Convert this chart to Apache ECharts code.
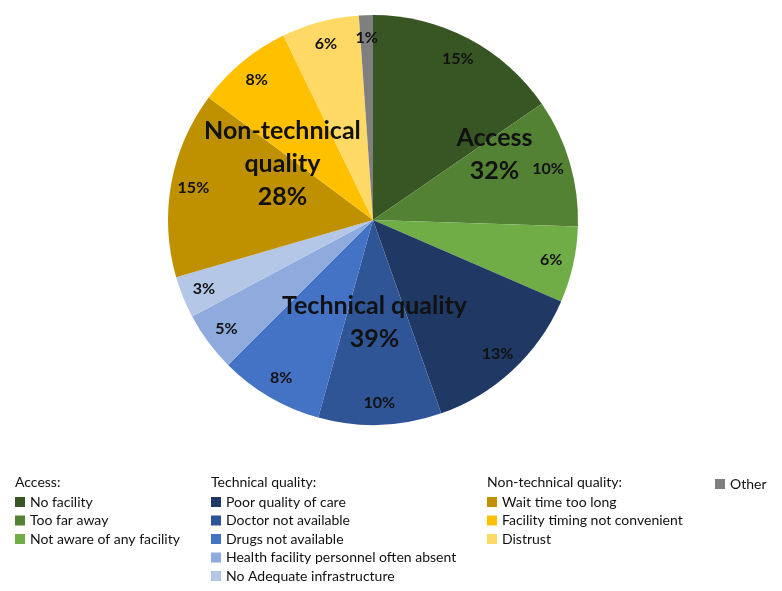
<!DOCTYPE html>
<html>
<head>
<meta charset="utf-8">
<script src="https://cdn.jsdelivr.net/npm/echarts@6/dist/echarts.min.js"></script>
<style>
  html, body { margin: 0; background: #fff; }
  #chart { width: 782px; height: 591px; }
</style>
</head>
<body>
<div id="chart"></div>
<script>
// reasons, clockwise from 12 o'clock
const categories = [
  'No facility', 'Too far away', 'Not aware of any facility',
  'Poor quality of care', 'Doctor not available', 'Drugs not available',
  'Health facility personnel often absent', 'No Adequate infrastructure',
  'Wait time too long', 'Facility timing not convenient', 'Distrust',
  'Other'
]
const values = [15.4, 10.1, 6.0, 13.1, 9.7, 8.2, 4.7, 3.3, 14.7, 7.6, 6.1, 1.1]
const groupOf = [0, 0, 0, 1, 1, 1, 1, 1, 2, 2, 2, 3]
const groups = ['Access', 'Technical quality', 'Non-technical quality', 'Other']
const groupTitles = ['Access:', 'Technical quality:', 'Non-technical quality:', '']
const groupLabels = ['Access', 'Technical quality', 'Non-technical\nquality', '']
const colors = [
  '#375623', '#548235', '#70ad47',
  '#203864', '#2f5597', '#4472c4', '#8faadc', '#b4c7e7',
  '#bf9000', '#ffc000', '#ffd966',
  '#7f7f7f'
]

const groupSums = groups.map((g, gi) =>
  values.reduce((s, v, i) => (groupOf[i] === gi ? s + v : s), 0))

const chart = echarts.init(document.getElementById('chart'))
const font = 'Lato, "Open Sans", sans-serif'
const center = [373, 220]
const legendLeft = [15, 211, 487, 715]
// nudge the big group labels to where they sit in the original
const groupShift = [[22, 0], [9, -16], [7, 12], [0, 0]]

chart.setOption({
  animation: false,
  graphic: groupTitles.filter(t => t).map((t, i) => ({
    type: 'text',
    left: legendLeft[i],
    top: 475,
    style: { text: t, fontSize: 14, fontFamily: font, fill: '#111' }
  })),
  legend: groups.map((g, gi) => ({
    orient: 'vertical',
    left: legendLeft[gi],
    top: gi === 3 ? 477 : 495,
    padding: 0,
    icon: 'rect',
    itemWidth: 10,
    itemHeight: 10,
    itemGap: 4.5,
    selectedMode: false,
    data: categories.filter((c, i) => groupOf[i] === gi),
    textStyle: { fontSize: 14, fontFamily: font, color: '#111', lineHeight: 14 }
  })),
  series: [
    {
      type: 'pie',
      center: center,
      radius: [0, 205],
      startAngle: 90,
      silent: true,
      label: { show: false },
      labelLine: { show: false },
      data: categories.map((name, i) => ({
        name,
        value: values[i],
        itemStyle: { color: colors[i] }
      }))
    },
    {
      // per-reason percentages near the rim
      type: 'pie',
      center: center,
      radius: [154, 205],
      startAngle: 90,
      silent: true,
      itemStyle: { color: 'rgba(0,0,0,0)' },
      label: {
        position: 'inside',
        fontSize: 16,
        fontWeight: 'bold',
        fontFamily: font,
        color: '#111',
        formatter: p => Math.round(p.value) + '%'
      },
      labelLine: { show: false },
      labelLayout: { hideOverlap: false },
      data: categories.map((name, i) => ({ name, value: values[i] }))
    },
    {
      // group totals
      type: 'pie',
      center: center,
      radius: [0, 232],
      startAngle: 90,
      silent: true,
      itemStyle: { color: 'rgba(0,0,0,0)' },
      label: {
        position: 'inside',
        fontSize: 25,
        fontWeight: 'bold',
        fontFamily: font,
        color: '#111',
        lineHeight: 33,
        formatter: p => groupLabels[p.dataIndex]
          ? groupLabels[p.dataIndex] + '\n' + Math.round(p.value) + '%'
          : ''
      },
      labelLine: { show: false },
      labelLayout: p => ({
        dx: groupShift[p.dataIndex][0],
        dy: groupShift[p.dataIndex][1],
        hideOverlap: false
      }),
      data: groups.map((g, gi) => ({ name: 'grp ' + g, value: groupSums[gi] }))
    }
  ]
})
</script>
</body>
</html>
